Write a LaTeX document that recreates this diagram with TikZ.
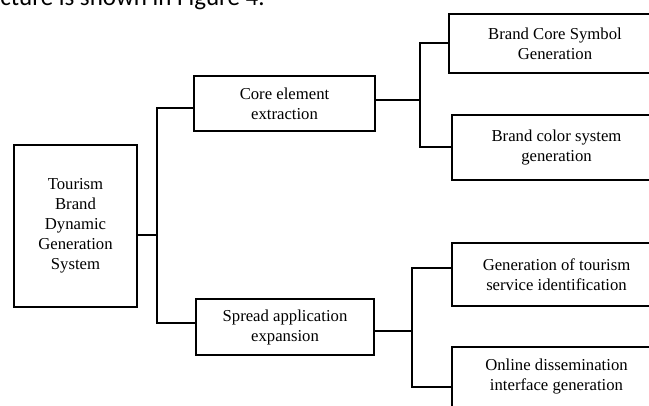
\documentclass[tikz,border=0pt]{standalone}
\usepackage{fontspec}
\setmainfont{Liberation Serif}
\newfontfamily\capfont{Carlito}
\usetikzlibrary{calc}
\begin{document}
\begin{tikzpicture}[x=1pt,y=-1pt,
  box/.style={draw,line width=1.4pt,inner sep=0pt,outer sep=0pt,align=center,
    font=\fontsize{16.7}{20}\selectfont},
  link/.style={line width=1.4pt}]
\useasboundingbox (0,0) rectangle (649,405);
\clip (0,0) rectangle (649,405);
\node[anchor=base east,font=\capfont\fontsize{25}{28}\selectfont,inner sep=0pt] (cap) at (265,5.5) {ucture is shown in Figure 4.};
\node[box,minimum width=123,minimum height=162] (root) at (75.5,226) {Tourism\\Brand\\Dynamic\\Generation\\System};
\node[box,minimum width=181,minimum height=55] (core) at (284.5,103.5) {Core element\\extraction};
\node[box,minimum width=178,minimum height=56] (spread) at (285,327) {Spread application\\expansion};
\node[box,minimum width=212,minimum height=59] (bcs) at (555,43.5) {Brand Core Symbol\\Generation};
\node[box,minimum width=209,minimum height=65] (color) at (556.5,147.5) {Brand color system\\generation};
\node[box,minimum width=209,minimum height=63] (gen) at (556.5,274.5) {Generation of tourism\\service identification};
\node[box,minimum width=209,minimum height=60] (online) at (556.5,377) {Online dissemination\\interface generation};
\coordinate (jr) at (157,235);
\coordinate (jt) at (157,108);
\coordinate (jb) at (157,323);
\coordinate (ca) at (420,100);
\coordinate (ct) at (420,43);
\coordinate (cb) at (420,147);
\coordinate (sa) at (412,331);
\coordinate (st) at (412,268);
\coordinate (sb) at (412,387);
\draw[link] (root.east |- jr) -- (jr);
\draw[link] (core.west |- jt) -- (jt) -- (jb) -- (spread.west |- jb);
\draw[link] (core.east |- ca) -- (ca);
\draw[link] (bcs.west |- ct) -- (ct) -- (cb) -- (color.west |- cb);
\draw[link] (spread.east |- sa) -- (sa);
\draw[link] (gen.west |- st) -- (st) -- (sb) -- (online.west |- sb);
\end{tikzpicture}
\end{document}
